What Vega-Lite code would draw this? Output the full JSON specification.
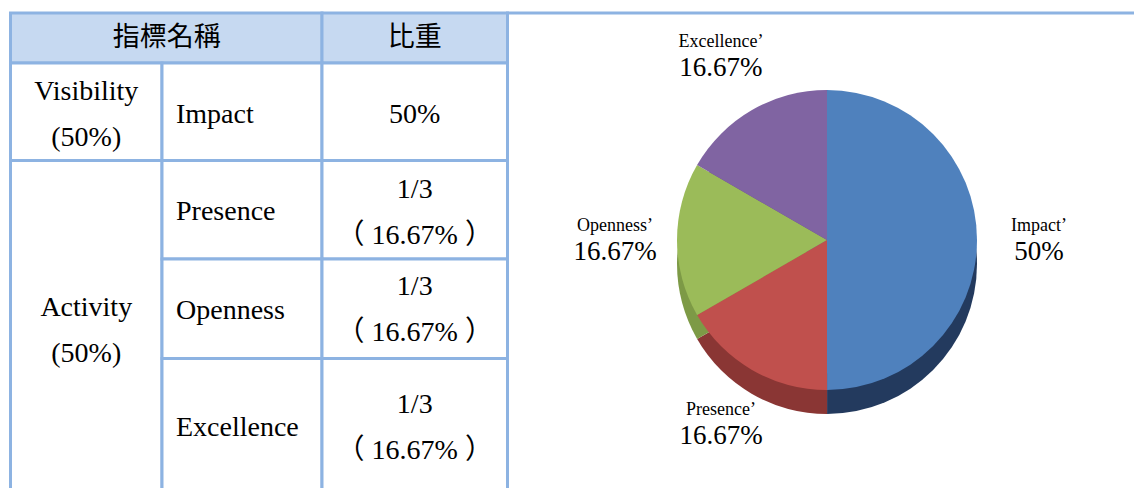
{
  "$schema": "https://vega.github.io/schema/vega-lite/v6.json",
  "width": 1134,
  "height": 488,
  "padding": 0,
  "autosize": {"type": "none"},
  "background": "white",
  "config": {"view": {"stroke": null}},
  "datasets": {
    "cells": [
      {"part": "header", "c0": 0, "c1": 2, "r0": 0, "r1": 1},
      {"part": "header", "c0": 2, "c1": 3, "r0": 0, "r1": 1},
      {"part": "body", "c0": 0, "c1": 1, "r0": 1, "r1": 2},
      {"part": "body", "c0": 1, "c1": 2, "r0": 1, "r1": 2},
      {"part": "body", "c0": 2, "c1": 3, "r0": 1, "r1": 2},
      {"part": "body", "c0": 0, "c1": 1, "r0": 2, "r1": 5},
      {"part": "body", "c0": 1, "c1": 2, "r0": 2, "r1": 3},
      {"part": "body", "c0": 2, "c1": 3, "r0": 2, "r1": 3},
      {"part": "body", "c0": 1, "c1": 2, "r0": 3, "r1": 4},
      {"part": "body", "c0": 2, "c1": 3, "r0": 3, "r1": 4},
      {"part": "body", "c0": 1, "c1": 2, "r0": 4, "r1": 5},
      {"part": "body", "c0": 2, "c1": 3, "r0": 4, "r1": 5},
      {"part": "body", "c0": 3, "c1": 4, "r0": 0, "r1": 5}
    ],
    "cellText": [
      {"role": "header", "text": "指標名稱", "gx": 1.03, "gy": 0.5},
      {"role": "header", "text": "比重", "gx": 2.5, "gy": 0.5},
      {"role": "dimension", "text": "Visibility\n(50%)", "gx": 0.5, "gy": 1.53},
      {"role": "indicator", "text": "Impact", "gx": 1, "gy": 1.53},
      {"role": "weight", "text": "50%", "gx": 2.5, "gy": 1.53},
      {"role": "dimension", "text": "Activity\n(50%)", "gx": 0.5, "gy": 3.72},
      {"role": "indicator", "text": "Presence", "gx": 1, "gy": 2.525},
      {"role": "weight", "text": "1/3\n（ 16.67% ）", "gx": 2.5, "gy": 2.53},
      {"role": "indicator", "text": "Openness", "gx": 1, "gy": 3.525},
      {"role": "weight", "text": "1/3\n（ 16.67% ）", "gx": 2.5, "gy": 3.515},
      {"role": "indicator", "text": "Excellence", "gx": 1, "gy": 4.49},
      {"role": "weight", "text": "1/3\n（ 16.67% ）", "gx": 2.5, "gy": 4.49}
    ],
    "pie": [
      {"name": "Impact", "share": 0.5, "n": 1},
      {"name": "Presence", "share": 0.1667, "n": 2},
      {"name": "Openness", "share": 0.1667, "n": 3},
      {"name": "Excellence", "share": 0.1667, "n": 4}
    ]
  },
  "resolve": {"scale": {"color": "independent"}},
  "layer": [
    {
      "data": {"name": "cells"},
      "mark": {"type": "rect", "stroke": "#8db3e2", "strokeWidth": 3},
      "encoding": {
        "x": {"field": "c0", "type": "quantitative", "axis": null,
              "scale": {"domain": [0, 1, 2, 3, 4], "range": [10.5, 162, 322, 507.5, 1136], "nice": false, "zero": false}},
        "x2": {"field": "c1"},
        "y": {"field": "r0", "type": "quantitative", "axis": null,
              "scale": {"domain": [0, 1, 2, 3, 4, 5], "range": [13, 63, 160.5, 259, 358.5, 500], "nice": false, "zero": false}},
        "y2": {"field": "r1"},
        "fill": {"field": "part", "type": "nominal", "legend": null,
                 "scale": {"domain": ["header", "body"], "range": ["#c6d9f1", "#ffffff"]}}
      }
    },
    {
      "data": {"name": "cellText"},
      "transform": [{"filter": "datum.role == 'header'"}],
      "mark": {"type": "text", "font": "Noto Sans CJK TC", "fontSize": 27, "align": "center", "baseline": "middle", "color": "#000000"},
      "encoding": {
        "x": {"field": "gx", "type": "quantitative", "axis": null,
              "scale": {"domain": [0, 1, 2, 3, 4], "range": [10.5, 162, 322, 507.5, 1136], "nice": false, "zero": false}},
        "y": {"field": "gy", "type": "quantitative", "axis": null,
              "scale": {"domain": [0, 1, 2, 3, 4, 5], "range": [13, 63, 160.5, 259, 358.5, 500], "nice": false, "zero": false}},
        "text": {"field": "text", "type": "nominal"}
      }
    },
    {
      "data": {"name": "cellText"},
      "transform": [{"filter": "(datum.role == 'dimension' || datum.role == 'weight') && indexof(datum.text, '\\n') >= 0"}],
      "mark": {"type": "text", "font": "Liberation Serif, Noto Sans CJK TC", "fontSize": 28, "align": "center", "baseline": "middle", "lineBreak": "\n", "lineHeight": 46, "dy": -23, "color": "#000000"},
      "encoding": {
        "x": {"field": "gx", "type": "quantitative", "axis": null},
        "y": {"field": "gy", "type": "quantitative", "axis": null},
        "text": {"field": "text", "type": "nominal"}
      }
    },
    {
      "data": {"name": "cellText"},
      "transform": [{"filter": "(datum.role == 'dimension' || datum.role == 'weight') && indexof(datum.text, '\\n') < 0"}],
      "mark": {"type": "text", "font": "Liberation Serif", "fontSize": 28, "align": "center", "baseline": "middle", "color": "#000000"},
      "encoding": {
        "x": {"field": "gx", "type": "quantitative", "axis": null},
        "y": {"field": "gy", "type": "quantitative", "axis": null},
        "text": {"field": "text", "type": "nominal"}
      }
    },
    {
      "data": {"name": "cellText"},
      "transform": [{"filter": "datum.role == 'indicator'"}],
      "mark": {"type": "text", "font": "Liberation Serif", "fontSize": 28, "align": "left", "baseline": "middle", "dx": 14, "color": "#000000"},
      "encoding": {
        "x": {"field": "gx", "type": "quantitative", "axis": null},
        "y": {"field": "gy", "type": "quantitative", "axis": null},
        "text": {"field": "text", "type": "nominal"}
      }
    },
    {
      "data": {"name": "pie"},
      "mark": {"type": "arc", "x": 827, "y": 264, "radius": 150},
      "encoding": {
        "theta": {"field": "share", "type": "quantitative", "stack": true},
        "order": {"field": "n", "type": "quantitative"},
        "color": {"field": "name", "type": "nominal", "legend": null,
                  "scale": {"domain": ["Impact", "Presence", "Openness", "Excellence"], "range": ["#233a5e", "#8a3634", "#7d9a46", "#654f85"]}}
      }
    },
    {
      "data": {"name": "pie"},
      "mark": {"type": "arc", "x": 827, "y": 240, "radius": 150},
      "encoding": {
        "theta": {"field": "share", "type": "quantitative", "stack": true},
        "order": {"field": "n", "type": "quantitative"},
        "color": {"field": "name", "type": "nominal", "legend": null,
                  "scale": {"domain": ["Impact", "Presence", "Openness", "Excellence"], "range": ["#4f81bd", "#c0504d", "#9bbb59", "#8064a2"]}}
      }
    },
    {
      "data": {"name": "pie"},
      "mark": {"type": "text", "x": 827, "y": 240, "radius": 212, "dy": -14, "font": "Liberation Serif", "fontSize": 18, "color": "#000000", "text": {"expr": "datum.name + '’'"}},
      "encoding": {
        "theta": {"field": "share", "type": "quantitative", "stack": true},
        "order": {"field": "n", "type": "quantitative"}
      }
    },
    {
      "data": {"name": "pie"},
      "mark": {"type": "text", "x": 827, "y": 240, "radius": 212, "dy": 12, "font": "Liberation Serif", "fontSize": 27, "color": "#000000"},
      "encoding": {
        "theta": {"field": "share", "type": "quantitative", "stack": true},
        "order": {"field": "n", "type": "quantitative"},
        "text": {"field": "share", "type": "quantitative", "format": ".4~%"}
      }
    }
  ]
}
